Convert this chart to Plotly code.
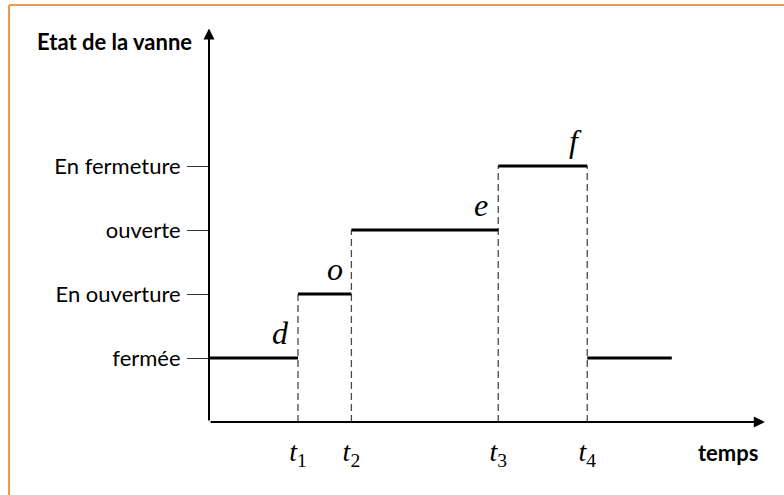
import plotly.graph_objects as go

# ---------------- data ----------------
state_names = ["fermée", "En ouverture", "ouverte", "En fermeture"]
state_levels = [1, 2, 3, 4]
switch_times = [2.0, 3.2, 6.5, 8.5]          # t1 .. t4
time_labels = ["<i>t</i><sub>1</sub>", "<i>t</i><sub>2</sub>",
               "<i>t</i><sub>3</sub>", "<i>t</i><sub>4</sub>"]
start_time = 0.0
end_time = 10.4
segment_states = [1, 2, 3, 4, 1]            # state held between successive times
phase_letters = ["d", "o", "e", "f"]        # label written before each switch

# ---------------- layout constants (style) ----------------
W, H = 784, 495
x0_px, y0_px = 209, 422          # pixel position of the origin
px_per_t, px_per_level = 44.5, 64
y_axis_top = 6.15
x_axis_end = 12.49

xrange_ = [-x0_px / px_per_t, (W - x0_px) / px_per_t]
yrange_ = [-(H - y0_px) / px_per_level, y0_px / px_per_level]

bounds = [start_time] + switch_times + [end_time]

fig = go.Figure()

# dashed verticals at switch instants
dx, dy = [], []
for i, t in enumerate(switch_times):
    top = max(segment_states[i], segment_states[i + 1])
    dx += [t, t, None]
    dy += [0, top, None]
fig.add_trace(go.Scatter(x=dx, y=dy, mode="lines",
                         line=dict(color="#4a4a4a", width=1.3, dash="7px,4px"),
                         hoverinfo="skip", showlegend=False))

# thick state segments
sx, sy = [], []
for i, s in enumerate(segment_states):
    sx += [bounds[i], bounds[i + 1], None]
    sy += [s, s, None]
fig.add_trace(go.Scatter(x=sx, y=sy, mode="lines",
                         line=dict(color="black", width=3),
                         hoverinfo="skip", showlegend=False))

annotations = []
# axes arrows
annotations.append(dict(x=0, y=y_axis_top, ax=0, ay=0, xref="x", yref="y",
                        axref="x", ayref="y", text="", showarrow=True,
                        arrowhead=2, arrowsize=1.1, arrowwidth=2, arrowcolor="black"))
annotations.append(dict(x=x_axis_end, y=0, ax=0, ay=0, xref="x", yref="y",
                        axref="x", ayref="y", text="", showarrow=True,
                        arrowhead=2, arrowsize=1.1, arrowwidth=2, arrowcolor="black"))

# phase letters
letter_xshift = [-18, -16, -17, -12]
for i, letter in enumerate(phase_letters):
    annotations.append(dict(x=switch_times[i], y=segment_states[i], xref="x", yref="y",
                            text=f"<i>{letter}</i>", showarrow=False,
                            xanchor="center", yanchor="middle",
                            xshift=letter_xshift[i], yshift=25,
                            font=dict(family="Liberation Serif", size=32, color="black")))

# axis titles
annotations.append(dict(x=114 / W, y=1 - 42 / H, xref="paper", yref="paper",
                        text="<b>Etat de la vanne</b>", showarrow=False,
                        xanchor="center", yanchor="middle",
                        font=dict(family="Lato", size=22, color="black")))
annotations.append(dict(x=728 / W, y=1 - 452 / H, xref="paper", yref="paper",
                        text="<b>temps</b>", showarrow=False,
                        xanchor="center", yanchor="middle",
                        font=dict(family="Lato", size=22, color="black")))

shapes = [
    dict(type="line", xref="paper", yref="paper", x0=9 / W, x1=9 / W, y0=-0.1, y1=1 - 5 / H,
         line=dict(color="#F79646", width=2)),
    dict(type="line", xref="paper", yref="paper", x0=9 / W, x1=1.1, y0=1 - 5 / H, y1=1 - 5 / H,
         line=dict(color="#F79646", width=2)),
]

fig.update_layout(
    width=W, height=H,
    margin=dict(l=0, r=0, t=0, b=0),
    paper_bgcolor="white", plot_bgcolor="white",
    showlegend=False,
    annotations=annotations,
    shapes=shapes,
    xaxis=dict(range=xrange_, domain=[0, 1], anchor="free", position=(H - y0_px) / H,
               showgrid=False, zeroline=False, showline=False, ticks="",
               tickvals=switch_times, ticktext=time_labels, ticklabelstandoff=10,
               tickfont=dict(family="Liberation Serif", size=28, color="black"),
               fixedrange=True),
    yaxis=dict(range=yrange_, domain=[0, 1], anchor="free", position=x0_px / W,
               showgrid=False, zeroline=False, showline=False,
               ticks="outside", ticklen=22, tickwidth=1, tickcolor="#333333",
               tickvals=state_levels, ticktext=state_names, ticklabelstandoff=2,
               tickfont=dict(family="Lato", size=22, color="black"),
               fixedrange=True),
)

fig.write_html("out.html", config={"displayModeBar": False},
               post_script="document.body.style.margin='0';")
